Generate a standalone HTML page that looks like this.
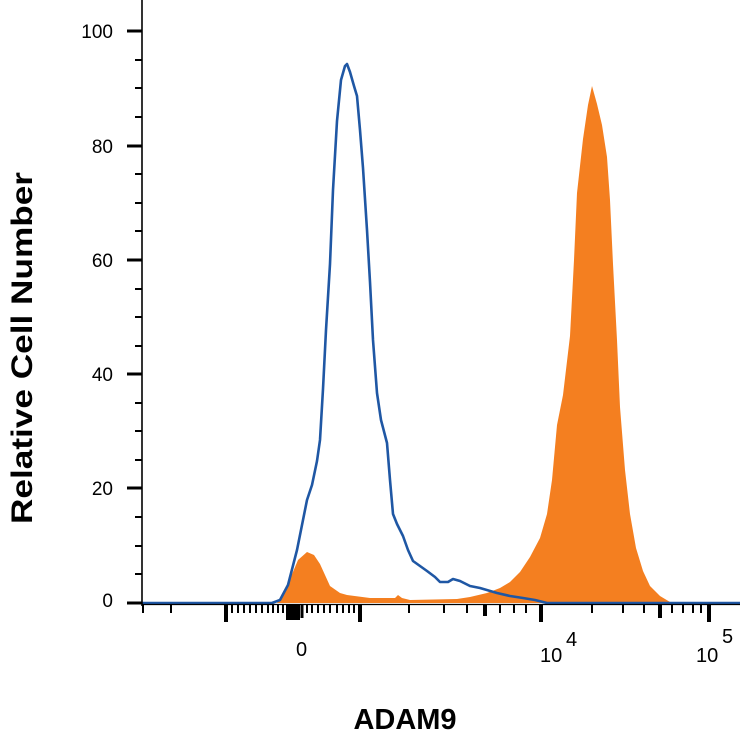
<!DOCTYPE html>
<html><head><meta charset="utf-8"><style>
html,body{margin:0;padding:0;background:#fff;width:741px;height:745px;overflow:hidden}
svg{display:block}
</style></head><body>
<svg width="741" height="745" viewBox="0 0 741 745" xmlns="http://www.w3.org/2000/svg">
<rect width="741" height="745" fill="#fff"/>
<!-- orange filled histogram -->
<path fill="#f47f20" d="M277,603 L290,579 L298,560 L307,552 L314,555 L320,564 L330,586 L340,593 L347,595 L370,598 L395,598 L398,595 L402,598 L410,600 L457,599 L470,597 L487,593 L500,588 L510,582 L520,572 L530,557 L540,538 L547,514 L552,480 L557,425 L563,395 L570,336 L574,260 L577,193 L583,139 L588,105 L592,86 L597,104 L602,125 L607,157 L610,200 L613,264 L617,340 L620,407 L625,470 L630,514 L636,548 L643,571 L650,586 L660,596 L670,602 L680,603 Z"/>
<!-- blue line -->
<polyline fill="none" stroke="#1f57a4" stroke-width="2.6" stroke-linejoin="round" points="142,603 272,603 280,600 288,585 297,550 303,520 307,500 312,485 317,461 320,440 323,389 326,330 330,264 333,190 337,121 341,80 345,66 347,64 350,72 354,86 357,96 360,130 363,168 367,230 370,282 373,340 377,393 381,420 387,443 390,480 393,514 397,524 403,536 408,550 413,561 420,566 427,571 435,577 440,582 448,582 453,579 460,581 470,586 480,588 497,593 510,596 523,598 535,600 547,603 740,603"/>
<!-- axes -->
<line x1="142" y1="0" x2="142" y2="606" stroke="#000" stroke-width="1.6"/>
<line x1="142" y1="604.5" x2="740" y2="604.5" stroke="#000" stroke-width="1.2"/>
<g stroke="#000" stroke-width="3">
<line x1="127" y1="31" x2="142" y2="31"/><line x1="127" y1="146" x2="142" y2="146"/>
<line x1="127" y1="260" x2="142" y2="260"/><line x1="127" y1="374" x2="142" y2="374"/>
<line x1="127" y1="488" x2="142" y2="488"/><line x1="127" y1="603" x2="142" y2="603"/>
</g>
<g stroke="#000" stroke-width="2">
<line x1="135" y1="60" x2="142" y2="60"/><line x1="135" y1="88" x2="142" y2="88"/><line x1="135" y1="117" x2="142" y2="117"/>
<line x1="135" y1="174" x2="142" y2="174"/><line x1="135" y1="203" x2="142" y2="203"/><line x1="135" y1="231" x2="142" y2="231"/>
<line x1="135" y1="289" x2="142" y2="289"/><line x1="135" y1="317" x2="142" y2="317"/><line x1="135" y1="346" x2="142" y2="346"/>
<line x1="135" y1="403" x2="142" y2="403"/><line x1="135" y1="431" x2="142" y2="431"/><line x1="135" y1="460" x2="142" y2="460"/>
<line x1="135" y1="517" x2="142" y2="517"/><line x1="135" y1="546" x2="142" y2="546"/><line x1="135" y1="574" x2="142" y2="574"/>
</g>
<!-- x ticks -->
<g stroke="#000" stroke-width="2">
<line x1="143" y1="605" x2="143" y2="613"/><line x1="171" y1="605" x2="171" y2="613"/>
<line x1="232" y1="605" x2="232" y2="613"/><line x1="238" y1="605" x2="238" y2="613"/><line x1="244" y1="605" x2="244" y2="613"/><line x1="250" y1="605" x2="250" y2="613"/><line x1="256" y1="605" x2="256" y2="613"/><line x1="262" y1="605" x2="262" y2="613"/><line x1="268" y1="605" x2="268" y2="613"/><line x1="273" y1="605" x2="273" y2="613"/><line x1="278" y1="605" x2="278" y2="613"/><line x1="283" y1="605" x2="283" y2="613"/>
<line x1="307" y1="605" x2="307" y2="613"/><line x1="312" y1="605" x2="312" y2="613"/><line x1="318" y1="605" x2="318" y2="613"/><line x1="324" y1="605" x2="324" y2="613"/><line x1="330" y1="605" x2="330" y2="613"/><line x1="337" y1="605" x2="337" y2="613"/><line x1="343" y1="605" x2="343" y2="613"/><line x1="349" y1="605" x2="349" y2="613"/><line x1="354" y1="605" x2="354" y2="613"/>
<line x1="409" y1="605" x2="409" y2="613"/><line x1="444" y1="605" x2="444" y2="613"/><line x1="467" y1="605" x2="467" y2="613"/><line x1="500" y1="605" x2="500" y2="613"/><line x1="514" y1="605" x2="514" y2="613"/><line x1="526" y1="605" x2="526" y2="613"/>
<line x1="592" y1="605" x2="592" y2="613"/><line x1="623" y1="605" x2="623" y2="613"/><line x1="644" y1="605" x2="644" y2="613"/><line x1="672" y1="605" x2="672" y2="613"/><line x1="683" y1="605" x2="683" y2="613"/><line x1="693" y1="605" x2="693" y2="613"/><line x1="701" y1="605" x2="701" y2="613"/>
</g>
<g stroke="#000" stroke-width="4">
<line x1="226" y1="605" x2="226" y2="622"/><line x1="360" y1="605" x2="360" y2="622"/>
<line x1="485" y1="605" x2="485" y2="616"/><line x1="541" y1="605" x2="541" y2="622"/>
<line x1="660" y1="605" x2="660" y2="618"/><line x1="709" y1="605" x2="709" y2="622"/>
</g>
<rect x="286" y="605" width="14" height="15" fill="#000"/>
<line x1="302" y1="605" x2="302" y2="618" stroke="#000" stroke-width="3"/>
<!-- labels -->
<g font-family="Liberation Sans, sans-serif" font-size="19" fill="#000" text-anchor="end">
<text x="113" y="38">100</text><text x="113" y="153">80</text><text x="113" y="267">60</text>
<text x="113" y="381">40</text><text x="113" y="495">20</text><text x="113" y="607">0</text>
</g>
<g font-family="Liberation Sans, sans-serif" font-size="20" fill="#000">
<text x="296" y="656">0</text>
<text x="540" y="662">10</text><text x="566" y="646" font-size="20">4</text>
<text x="696" y="662">10</text><text x="722" y="643" font-size="20">5</text>
</g>
<text x="405" y="729" font-family="Liberation Sans, sans-serif" font-weight="bold" font-size="29" text-anchor="middle">ADAM9</text>
<text transform="translate(32,348) rotate(-90)" font-family="Liberation Sans, sans-serif" font-weight="bold" font-size="30" text-anchor="middle" textLength="352" lengthAdjust="spacingAndGlyphs">Relative Cell Number</text>
</svg>
</body></html>
